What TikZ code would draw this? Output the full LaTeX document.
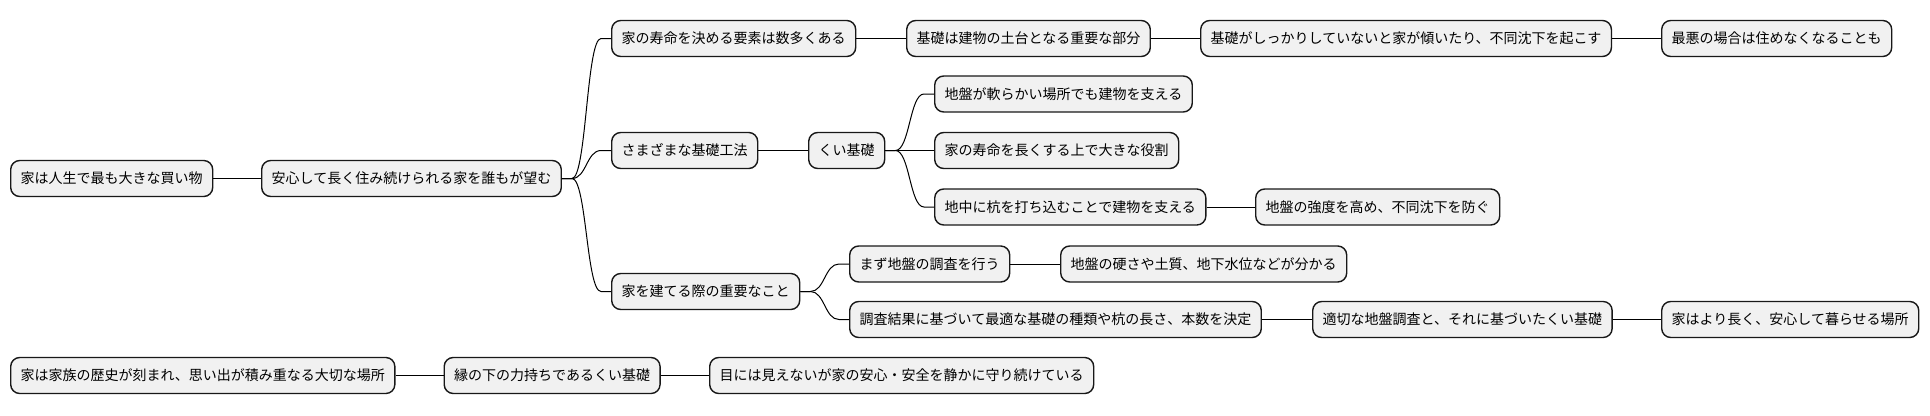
\documentclass[tikz,border=0pt]{standalone}
\usepackage{fontspec}
\setmainfont{Noto Sans CJK JP}
\usetikzlibrary{calc}
\definecolor{boxfill}{HTML}{F1F1F1}
\definecolor{boxline}{HTML}{181818}
\tikzset{
  mmbox/.style={draw=boxline, line width=1.4pt, fill=boxfill, rounded corners=9pt,
    anchor=west, inner xsep=10pt, inner ysep=0pt, minimum height=36pt,
    font=\fontsize{14pt}{16pt}\selectfont, text=black},
  link/.style={draw=black, line width=1pt}
}
\newcommand\mmcurve[2]{%
  \draw[link] let \p1=(#1.east), \p2=(#2.west) in
    (#1.east) -- (\x1+10pt,\y1)
    .. controls ({(\x1+\x2)/2},\y1) and ({(\x1+\x2)/2},\y2) ..
    (\x2-10pt,\y2) -- (#2.west);}
\newcommand\mmline[2]{\draw[link] (#1.east) -- (#2.west);}
\begin{document}
\begin{tikzpicture}
\useasboundingbox (0,0) rectangle (1930pt,-415pt);
% root row
\node[mmbox] (A) at (10pt,-178.5pt) {家は人生で最も大きな買い物};
\node[mmbox] (B) at (261pt,-178.5pt) {安心して長く住み続けられる家を誰もが望む};
% branch 1
\node[mmbox] (C1) at (611pt,-38.5pt) {家の寿命を決める要素は数多くある};
\node[mmbox] (C1a) at (906pt,-38.5pt) {基礎は建物の土台となる重要な部分};
\node[mmbox] (C1b) at (1200pt,-38.5pt) {基礎がしっかりしていないと家が傾いたり、不同沈下を起こす};
\node[mmbox] (C1c) at (1661pt,-38.5pt) {最悪の場合は住めなくなることも};
% branch 2
\node[mmbox] (C2) at (611pt,-150.5pt) {さまざまな基礎工法};
\node[mmbox] (C2a) at (808pt,-150.5pt) {くい基礎};
\node[mmbox] (C2a1) at (934pt,-94pt) {地盤が軟らかい場所でも建物を支える};
\node[mmbox] (C2a2) at (934pt,-150.5pt) {家の寿命を長くする上で大きな役割};
\node[mmbox] (C2a3) at (934pt,-207pt) {地中に杭を打ち込むことで建物を支える};
\node[mmbox] (C2a3a) at (1255pt,-207pt) {地盤の強度を高め、不同沈下を防ぐ};
% branch 3
\node[mmbox] (C3) at (611pt,-291.5pt) {家を建てる際の重要なこと};
\node[mmbox] (C3a) at (849pt,-264pt) {まず地盤の調査を行う};
\node[mmbox] (C3a1) at (1060pt,-264pt) {地盤の硬さや土質、地下水位などが分かる};
\node[mmbox] (C3b) at (849pt,-319.5pt) {調査結果に基づいて最適な基礎の種類や杭の長さ、本数を決定};
\node[mmbox] (C3b1) at (1312pt,-319.5pt) {適切な地盤調査と、それに基づいたくい基礎};
\node[mmbox] (C3b2) at (1661pt,-319.5pt) {家はより長く、安心して暮らせる場所};
% second tree
\node[mmbox] (D) at (10pt,-375.5pt) {家は家族の歴史が刻まれ、思い出が積み重なる大切な場所};
\node[mmbox] (D1) at (443.5pt,-375.5pt) {縁の下の力持ちであるくい基礎};
\node[mmbox] (D2) at (709pt,-375.5pt) {目には見えないが家の安心・安全を静かに守り続けている};
% connectors
\mmline{A}{B}
\mmcurve{B}{C1}
\mmcurve{B}{C2}
\mmcurve{B}{C3}
\mmline{C1}{C1a}
\mmline{C1a}{C1b}
\mmline{C1b}{C1c}
\mmline{C2}{C2a}
\mmcurve{C2a}{C2a1}
\mmline{C2a}{C2a2}
\mmcurve{C2a}{C2a3}
\mmline{C2a3}{C2a3a}
\mmcurve{C3}{C3a}
\mmcurve{C3}{C3b}
\mmline{C3a}{C3a1}
\mmline{C3b}{C3b1}
\mmline{C3b1}{C3b2}
\mmline{D}{D1}
\mmline{D1}{D2}
\end{tikzpicture}
\end{document}
